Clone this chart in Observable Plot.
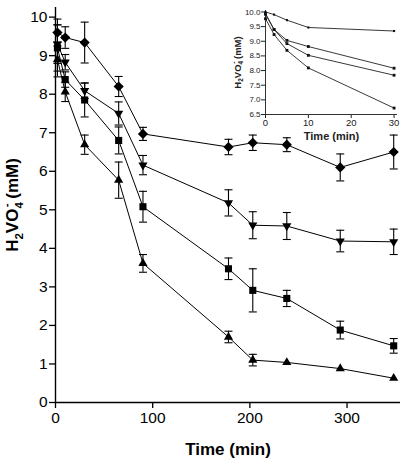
<!DOCTYPE html>
<html>
<head>
<meta charset="utf-8">
<script src="https://cdn.jsdelivr.net/npm/d3@7"></script>
<script src="https://cdn.jsdelivr.net/npm/@observablehq/plot@0.6"></script>
<style>
  html, body { margin: 0; padding: 0; background: white; }
  #wrap { position: relative; width: 406px; height: 464px; }
  #inset { position: absolute; left: 222px; top: 0px; }
</style>
</head>
<body>
<div id="wrap"><div id="main"></div><div id="inset"></div></div>
<script>
// ---- Main chart data ----
const times = [2, 10, 30, 65, 90, 178, 203, 238, 293, 348];
const diamondVals = [9.6, 9.47, 9.34, 8.2, 6.97, 6.63, 6.74, 6.69, 6.1, 6.5];
const diamondErr  = [0.35, 0.28, 0.53, 0.26, 0.17, 0.2, 0.2, 0.18, 0.35, 0.44];
const invTriVals  = [9.3, 8.83, 8.09, 7.5, 6.16, 5.18, 4.6, 4.58, 4.19, 4.17];
const invTriErr   = [0.5, 0.2, 0.2, 0.3, 0.25, 0.34, 0.35, 0.35, 0.28, 0.33];
const squareVals  = [9.2, 8.38, 7.85, 6.8, 5.08, 3.47, 2.91, 2.7, 1.88, 1.47];
const squareErr   = [0.6, 0.2, 0.44, 0.35, 0.4, 0.28, 0.56, 0.21, 0.23, 0.19];
const triVals     = [8.9, 8.06, 6.69, 5.77, 3.61, 1.7, 1.1, 1.04, 0.88, 0.63];
const triErr      = [0.45, 0.25, 0.25, 0.47, 0.23, 0.15, 0.15, 0, 0, 0];
const xTicks = [0, 100, 200, 300];
const yTicks = [0, 1, 2, 3, 4, 5, 6, 7, 8, 9, 10];
const xLabel = "Time (min)";

// ---- Inset data ----
const insetTimes = [0, 2, 5, 10, 30];
const insetA = [10.0, 9.91, 9.72, 9.47, 9.35];
const insetB = [9.95, 9.4, 9.03, 8.82, 8.08];
const insetC = [9.92, 9.4, 8.92, 8.52, 7.84];
const insetD = [9.77, 9.23, 8.69, 8.09, 6.72];
const insetXTicks = [0, 10, 20, 30];
const insetYTicks = [6.5, 7.0, 7.5, 8.0, 8.5, 9.0, 9.5, 10.0];

const series = [
  {name: "diamond", vals: diamondVals, errs: diamondErr, symbol: "diamond2", rotate: 0, r: 4.6},
  {name: "invtri", vals: invTriVals, errs: invTriErr, symbol: "triangle", rotate: 180, r: 3.4},
  {name: "square", vals: squareVals, errs: squareErr, symbol: "square", rotate: 0, r: 4},
  {name: "tri", vals: triVals, errs: triErr, symbol: "triangle", rotate: 0, r: 3.4}
];

const capSymbol = {
  draw(context, size) {
    const w = Math.sqrt(size / Math.PI);
    context.moveTo(-w, 0);
    context.lineTo(w, 0);
  }
};

const seriesMarks = series.flatMap(s => {
  const rows = times.map((t, i) => ({t, v: s.vals[i], e: s.errs[i]}));
  const errRows = rows.filter(d => d.e > 0);
  return [
    Plot.line(rows, {x: "t", y: "v", stroke: "black", strokeWidth: 1}),
    Plot.ruleX(errRows, {x: "t", y1: d => d.v - d.e, y2: d => d.v + d.e, stroke: "black", strokeWidth: 1.1}),
    Plot.dot(errRows, {x: "t", y: d => d.v - d.e, symbol: capSymbol, r: 4, stroke: "black", fill: "none", strokeWidth: 1.1}),
    Plot.dot(errRows, {x: "t", y: d => d.v + d.e, symbol: capSymbol, r: 4, stroke: "black", fill: "none", strokeWidth: 1.1}),
    Plot.dot(rows, {x: "t", y: "v", symbol: s.symbol, rotate: s.rotate, r: s.r, fill: "black", stroke: "none"})
  ];
});

const FONT = "'Liberation Sans', Arial, Helvetica, sans-serif";

const main = Plot.plot({
  width: 406,
  height: 464,
  marginLeft: 55,
  marginRight: 6,
  marginTop: 7,
  marginBottom: 62,
  x: {domain: [0, 355]},
  y: {domain: [0, 10.25]},
  style: {fontFamily: FONT, color: "black", background: "white", overflow: "visible"},
  marks: [
    Plot.axisX({ticks: xTicks, tickSize: 6, tickPadding: 3, fontSize: 15.5, label: null, strokeWidth: 1.3}),
    Plot.axisY({ticks: yTicks, tickSize: 6, tickPadding: 2, fontSize: 15.5, label: null, strokeWidth: 1.3}),
    Plot.ruleX([0], {stroke: "black", strokeWidth: 1.4}),
    Plot.ruleY([0], {stroke: "black", strokeWidth: 1.4}),
    ...seriesMarks,
    Plot.text([xLabel], {text: d => d, frameAnchor: "bottom", lineAnchor: "middle", textAnchor: "middle", dy: 47, fontSize: 17, fontWeight: "bold"}),
    Plot.text(["H2VO4- (mM)"], {text: d => d, frameAnchor: "left", textAnchor: "middle", lineAnchor: "middle", rotate: -90, dx: -43, fontSize: 17, fontWeight: "bold", ariaLabel: "ylabel"})
  ]
});
document.getElementById("main").appendChild(main);

// ---- Inset ----
const insetSeries = [insetA, insetB, insetC, insetD];
const insetMarks = insetSeries.flatMap((vals, k) => {
  const rows = insetTimes.map((t, i) => ({t, v: vals[i]}));
  return [
    Plot.line(rows, {x: "t", y: "v", stroke: "#222", strokeWidth: 0.9}),
    Plot.dot(rows, {x: "t", y: "v", symbol: "square", r: k === 0 ? 1.2 : 1.6, fill: "#111", stroke: "none"})
  ];
});

const inset = Plot.plot({
  width: 184,
  height: 150,
  marginLeft: 43,
  marginRight: 9,
  marginTop: 10,
  marginBottom: 36,
  x: {domain: [0, 30.8]},
  y: {domain: [6.5, 10.05]},
  style: {fontFamily: FONT, color: "#222", background: "transparent", overflow: "visible"},
  marks: [
    Plot.axisX({ticks: insetXTicks, tickSize: 4, tickPadding: 1, fontSize: 9.5, label: null}),
    Plot.axisY({ticks: insetYTicks, tickFormat: d3.format(".1f"), tickSize: 4, tickPadding: 1, fontSize: 8, label: null}),
    Plot.ruleX([0], {stroke: "#333", strokeWidth: 1}),
    Plot.ruleY([6.5], {stroke: "#333", strokeWidth: 1}),
    ...insetMarks,
    Plot.text([xLabel], {text: d => d, frameAnchor: "bottom", lineAnchor: "middle", textAnchor: "middle", dy: 22, fontSize: 11, fontWeight: "bold"}),
    Plot.text(["H2VO4- (mM)"], {text: d => d, frameAnchor: "left", textAnchor: "middle", lineAnchor: "middle", rotate: -90, dx: -28, fontSize: 9.5, fontWeight: "bold", ariaLabel: "ylabel"})
  ]
});
document.getElementById("inset").appendChild(inset);

// Chemical formula with proper sub/superscripts
function chemLabel(svg, fs) {
  const node = Array.from(svg.querySelectorAll("text")).find(el => el.getAttribute("aria-label") === "ylabel" || el.textContent === "H2VO4- (mM)");
  if (!node) return;
  const t = d3.select(node);
  t.text(null);
  const small = fs * 0.68;
  t.append("tspan").text("H");
  t.append("tspan").attr("font-size", small).attr("dy", fs * 0.28).text("2");
  t.append("tspan").attr("dy", -fs * 0.28).text("VO");
  t.append("tspan").attr("font-size", small).attr("dy", fs * 0.28).text("4");
  t.append("tspan").attr("font-size", small).attr("dx", -small * 0.45).attr("dy", -fs * 0.72).text("-");
  t.append("tspan").attr("dy", fs * 0.44).text(" (mM)");
}
chemLabel(main, 17);
chemLabel(inset, 9.5);
</script>
</body>
</html>
